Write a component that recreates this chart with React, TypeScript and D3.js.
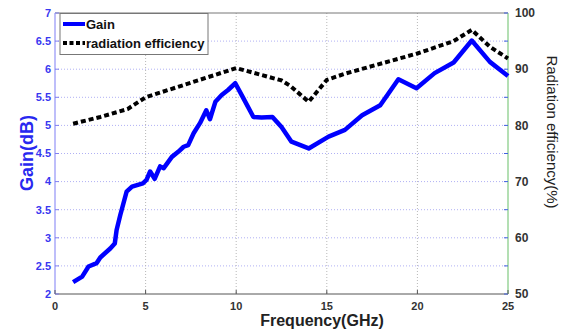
import React, { useEffect, useRef } from 'react';
import * as d3 from 'd3';

// gain curve (GHz, dB)
const gainFreq = [1, 1.5, 1.85, 2.3, 2.5, 3.05, 3.3, 3.4, 3.6, 3.95, 4.25, 4.85, 5.05, 5.25, 5.5, 5.8, 6.0, 6.45, 6.8, 7.1, 7.35, 7.65, 8.0, 8.35, 8.55, 8.85, 9.2, 9.55, 9.95, 10.4, 10.95, 11.4, 12.0, 12.5, 13.05, 14.0, 15.1, 16.0, 16.95, 17.95, 18.95, 19.95, 20.95, 22.0, 23.0, 24.0, 25.0];
const gainDb = [2.21, 2.31, 2.49, 2.55, 2.65, 2.81, 2.9, 3.14, 3.4, 3.82, 3.91, 3.97, 4.03, 4.18, 4.05, 4.27, 4.24, 4.44, 4.53, 4.62, 4.65, 4.86, 5.04, 5.27, 5.11, 5.42, 5.54, 5.63, 5.75, 5.48, 5.15, 5.14, 5.15, 4.97, 4.71, 4.59, 4.8, 4.92, 5.18, 5.36, 5.82, 5.66, 5.93, 6.12, 6.51, 6.13, 5.88];

// radiation efficiency (GHz, %)
const effFreq = [1, 2.5, 4, 5, 10, 12.5, 13, 14, 15, 16, 20, 22, 23, 24, 25];
const effPct = [80.3, 81.5, 82.9, 85, 90.2, 88, 87, 84.2, 88.1, 89.2, 92.8, 95, 97, 94, 91.9];

const gainTicks = [2, 2.5, 3, 3.5, 4, 4.5, 5, 5.5, 6, 6.5, 7];
const freqTicks = [0, 5, 10, 15, 20, 25];
const effTicks = [50, 60, 70, 80, 90, 100];
const effMinorTicks = [55, 65, 75, 85, 95];

const W = 562;
const H = 333;
const m = { left: 55, right: 54, top: 13, bottom: 39 };

const App: React.FC = () => {
  const ref = useRef<SVGSVGElement>(null);

  useEffect(() => {
    if (!ref.current) return;
    const svg = d3.select(ref.current);
    svg.selectAll('*').remove();

    const x = d3.scaleLinear().domain([0, 25]).range([m.left, W - m.right]);
    const yL = d3.scaleLinear().domain([2, 7]).range([H - m.bottom, m.top]);
    const yR = d3.scaleLinear().domain([50, 100]).range([H - m.bottom, m.top]);
    const x0 = x(0), x1 = x(25), yb = yL(2), yt = yL(7);

    svg.append('rect').attr('width', W).attr('height', H).attr('fill', 'white');

    // grid
    svg.append('g').selectAll('line').data(gainTicks.slice(1, -1)).enter().append('line')
      .attr('x1', x0).attr('x2', x1).attr('y1', d => yL(d)).attr('y2', d => yL(d))
      .attr('stroke', '#b0b0f4').attr('stroke-width', 1).attr('stroke-dasharray', '1,2');
    svg.append('g').selectAll('line').data(freqTicks.slice(1, -1)).enter().append('line')
      .attr('x1', d => x(d)).attr('x2', d => x(d)).attr('y1', yt).attr('y2', yb)
      .attr('stroke', '#b8b8b8').attr('stroke-width', 1).attr('stroke-dasharray', '1,2');

    // box
    svg.append('line').attr('x1', x0).attr('x2', x1).attr('y1', yt).attr('y2', yt).attr('stroke', '#777');
    svg.append('line').attr('x1', x0).attr('x2', x1).attr('y1', yb).attr('y2', yb).attr('stroke', '#555');
    svg.append('line').attr('x1', x0).attr('x2', x0).attr('y1', yt).attr('y2', yb).attr('stroke', '#a8a8f8').attr('stroke-width', 1.5);
    svg.append('line').attr('x1', x1).attr('x2', x1).attr('y1', yt).attr('y2', yb).attr('stroke', '#9ad49a').attr('stroke-width', 1.5);

    // tick marks
    svg.append('g').selectAll('line').data(gainTicks).enter().append('line')
      .attr('x1', x0).attr('x2', x0 + 4).attr('y1', d => yL(d)).attr('y2', d => yL(d)).attr('stroke', '#8080f0');
    svg.append('g').selectAll('line').data([...effTicks, ...effMinorTicks]).enter().append('line')
      .attr('x1', x1).attr('x2', x1 - 4).attr('y1', d => yR(d)).attr('y2', d => yR(d)).attr('stroke', '#4060e0');
    svg.append('g').selectAll('line').data(freqTicks).enter().append('line')
      .attr('x1', d => x(d)).attr('x2', d => x(d)).attr('y1', yb).attr('y2', yb - 4).attr('stroke', '#555');

    // tick labels
    const narrow = "'Liberation Sans Narrow', 'Arial Narrow', 'Liberation Sans', Arial, sans-serif";
    svg.append('g').selectAll('text').data(gainTicks).enter().append('text')
      .attr('x', x0 - 4).attr('y', d => yL(d)).attr('dy', '0.35em').attr('text-anchor', 'end')
      .attr('font-family', "'Liberation Sans', Arial, sans-serif").attr('font-weight', 'bold').attr('font-size', 11)
      .attr('fill', '#3838f0').text(d => String(d));
    svg.append('g').selectAll('text').data(freqTicks).enter().append('text')
      .attr('x', d => x(d)).attr('y', yb + 16).attr('text-anchor', 'middle')
      .attr('font-family', narrow).attr('font-weight', 'bold').attr('font-size', 11)
      .attr('fill', '#333').text(d => String(d));
    svg.append('g').selectAll('text').data(effTicks).enter().append('text')
      .attr('x', x1 + 7).attr('y', d => yR(d)).attr('dy', '0.35em').attr('text-anchor', 'start')
      .attr('font-family', narrow).attr('font-weight', 'bold').attr('font-size', 12)
      .attr('fill', '#333').text(d => String(d));

    // axis titles
    svg.append('text').attr('transform', `translate(33, 153) rotate(-90)`).attr('text-anchor', 'middle')
      .attr('font-family', "'Liberation Sans', Arial, sans-serif").attr('font-weight', 'bold').attr('font-size', 18)
      .attr('fill', '#2828f0').text('Gain(dB)');
    svg.append('text').attr('x', 322).attr('y', 326).attr('text-anchor', 'middle')
      .attr('font-family', "'Liberation Sans', Arial, sans-serif").attr('font-weight', 'bold').attr('font-size', 16)
      .attr('fill', '#222').text('Frequency(GHz)');
    svg.append('text').attr('transform', `translate(547, 132) rotate(90)`).attr('text-anchor', 'middle')
      .attr('font-family', narrow).attr('font-size', 15)
      .attr('fill', '#222').text('Radiation efficiency(%)');

    // series
    const gainLine = d3.line<number>().x((_, i) => x(gainFreq[i])).y(d => yL(d));
    const effLine = d3.line<number>().x((_, i) => x(effFreq[i])).y(d => yR(d));
    svg.append('path').attr('d', effLine(effPct)).attr('fill', 'none').attr('stroke', '#000')
      .attr('stroke-width', 4).attr('stroke-dasharray', '5,3');
    svg.append('path').attr('d', gainLine(gainDb)).attr('fill', 'none').attr('stroke', '#0000ff')
      .attr('stroke-width', 4.5).attr('stroke-linejoin', 'round');

    // legend
    const lg = svg.append('g');
    lg.append('rect').attr('x', 60).attr('y', 13.5).attr('width', 148).attr('height', 41)
      .attr('fill', 'white').attr('stroke', '#777');
    lg.append('line').attr('x1', 63).attr('x2', 85).attr('y1', 24).attr('y2', 24)
      .attr('stroke', '#0000ff').attr('stroke-width', 4);
    lg.append('line').attr('x1', 63).attr('x2', 85).attr('y1', 43).attr('y2', 43)
      .attr('stroke', '#000').attr('stroke-width', 4).attr('stroke-dasharray', '4,2.5');
    lg.append('text').attr('x', 86).attr('y', 29).attr('font-family', "'Liberation Sans', Arial, sans-serif")
      .attr('font-weight', 'bold').attr('font-size', 13).attr('fill', '#111').text('Gain');
    lg.append('text').attr('x', 86).attr('y', 48).attr('font-family', "'Liberation Sans', Arial, sans-serif")
      .attr('font-weight', 'bold').attr('font-size', 13).attr('fill', '#111').text('radiation efficiency');
  }, []);

  return (
    <svg ref={ref} width={W} height={H} viewBox={`0 0 ${W} ${H}`}
      style={{ position: 'absolute', left: 0, top: 0 }}></svg>
  );
};

export default App;
